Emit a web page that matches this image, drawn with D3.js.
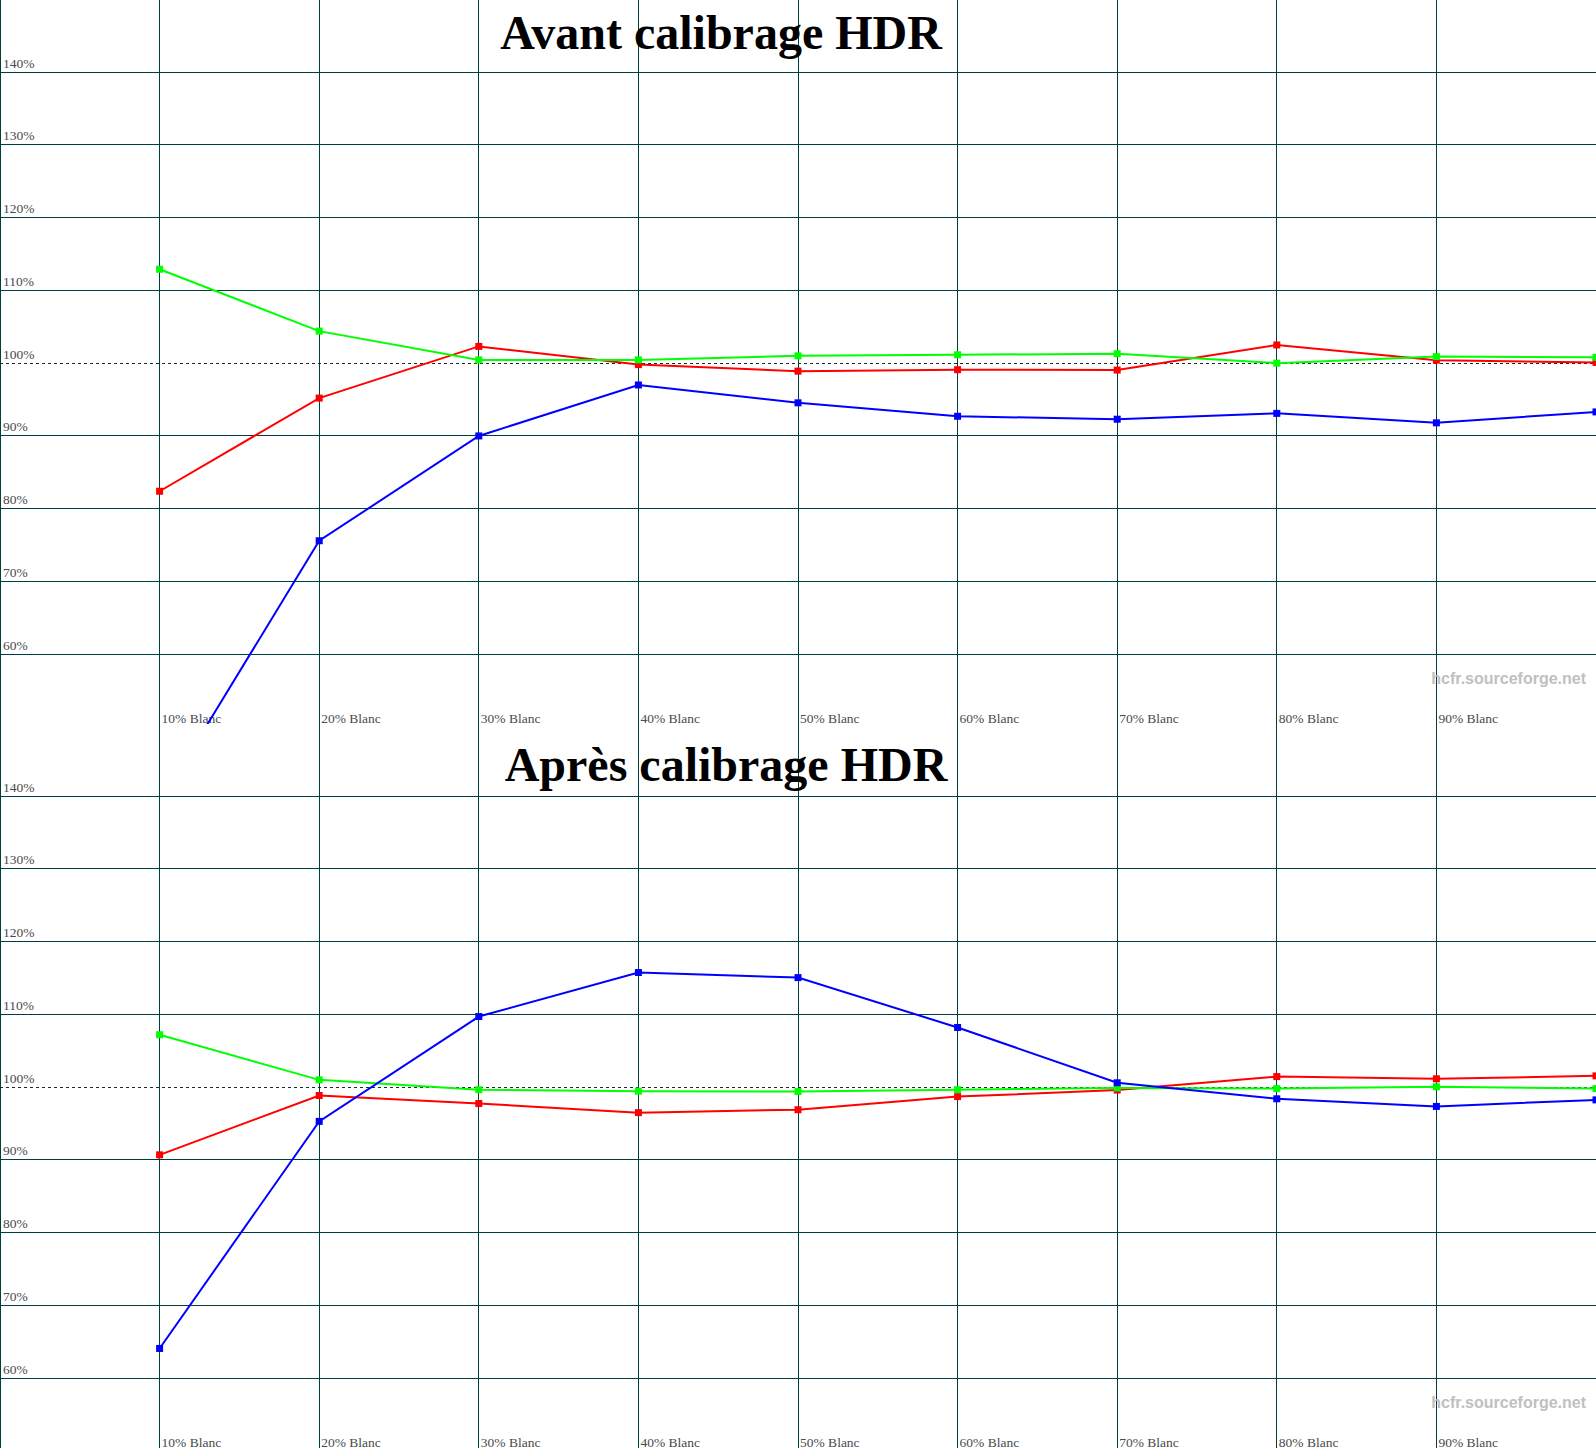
<!DOCTYPE html>
<html>
<head>
<meta charset="utf-8">
<script src="https://cdn.jsdelivr.net/npm/d3@7"></script>
<style>
  body { margin: 0; background: #fff; }
  svg { display: block; }
</style>
</head>
<body>
<div id="chart"></div>
<script>
// niveaux de blanc mesurés
const levels = [10, 20, 30, 40, 50, 60, 70, 80, 90, 100];
const yTicks = [60, 70, 80, 90, 100, 110, 120, 130, 140];

// avant calibrage
const avantRouge = [82.4, 95.2, 102.3, 99.8, 98.9, 99.1, 99.05, 102.5, 100.4, 100.1];
const avantVert = [112.9, 104.4, 100.45, 100.45, 101.0, 101.15, 101.3, 100.0, 100.9, 100.8];
const avantBleu = [39.6, 75.6, 90.0, 97.0, 94.55, 92.7, 92.3, 93.1, 91.8, 93.3];

// après calibrage
const apresRouge = [90.7, 98.85, 97.75, 96.5, 96.9, 98.7, 99.6, 101.45, 101.15, 101.55];
const apresVert = [107.2, 101.0, 99.65, 99.45, 99.4, 99.65, 99.9, 99.8, 100.05, 99.8];
const apresBleu = [64.1, 95.3, 109.7, 115.75, 115.05, 108.2, 100.6, 98.4, 97.35, 98.25];

const width = 1596, height = 1454, chartH = 724;
const gridColor = "#003f3f";

let svg = d3.select('#chart').append('svg')
    .attr('width', width)
    .attr('height', height)
    .style('background', '#fff');

let x = d3.scaleLinear().domain([0, 100]).range([0, 1596]);
let y = d3.scaleLinear().domain([60, 140]).range([654.3, 72]);

function drawChart(idx, title, titleX, titleY, series) {
    let g = svg.append('g').attr('transform', `translate(0,${idx * chartH})`);

    g.append('clipPath').attr('id', 'clip' + idx)
        .append('rect').attr('width', width).attr('height', chartH);

    // grille verticale
    g.selectAll('.vline')
        .data([0].concat(levels))
        .enter()
        .append('line')
        .attr('x1', d => d === 0 ? 0.5 : x(d))
        .attr('x2', d => d === 0 ? 0.5 : x(d))
        .attr('y1', 0)
        .attr('y2', chartH)
        .attr('stroke', gridColor)
        .attr('stroke-width', 1)
        .attr('shape-rendering', 'crispEdges');

    // grille horizontale (100% en pointillés)
    g.selectAll('.hline')
        .data(yTicks)
        .enter()
        .append('line')
        .attr('x1', 0)
        .attr('x2', width)
        .attr('y1', d => y(d))
        .attr('y2', d => y(d))
        .attr('stroke', d => d === 100 ? '#1a2a2a' : gridColor)
        .attr('stroke-dasharray', d => d === 100 ? '3,3' : null)
        .attr('stroke-width', 1)
        .attr('shape-rendering', 'crispEdges');

    g.selectAll('.ylab')
        .data(yTicks)
        .enter()
        .append('text')
        .attr('x', 3)
        .attr('y', d => y(d) - 4.5)
        .attr('font-family', '"Liberation Serif", "Times New Roman", serif')
        .attr('font-size', '13.5px')
        .attr('fill', '#4a4a4a')
        .text(d => d + '%');

    g.selectAll('.xlab')
        .data(levels.filter(d => x(d) < width - 20))
        .enter()
        .append('text')
        .attr('x', d => x(d) + 2)
        .attr('y', 722.7)
        .attr('font-family', '"Liberation Serif", "Times New Roman", serif')
        .attr('font-size', '13.5px')
        .attr('fill', '#4a4a4a')
        .text(d => d + '% Blanc');

    g.append('text')
        .attr('x', 1586)
        .attr('y', 684.3)
        .attr('text-anchor', 'end')
        .attr('font-family', '"Liberation Sans", Arial, sans-serif')
        .attr('font-weight', 'bold')
        .attr('font-size', '16px')
        .attr('fill', '#c0c0c0')
        .text('hcfr.sourceforge.net');

    let plot = g.append('g').attr('clip-path', `url(#clip${idx})`);
    let line = d3.line().x((d, i) => x(levels[i])).y(d => y(d));

    series.forEach(s => {
        plot.append('path')
            .datum(s.values)
            .attr('d', line)
            .attr('fill', 'none')
            .attr('stroke', s.color)
            .attr('stroke-width', 2);
        plot.selectAll(null)
            .data(s.values)
            .enter()
            .append('rect')
            .attr('x', (d, i) => x(levels[i]) - 3.5)
            .attr('y', d => y(d) - 3.5)
            .attr('width', 7)
            .attr('height', 7)
            .attr('fill', s.color);
    });

    g.append('text')
        .attr('x', titleX)
        .attr('y', titleY)
        .attr('text-anchor', 'middle')
        .attr('font-family', '"Liberation Serif", "Times New Roman", serif')
        .attr('font-weight', 'bold')
        .attr('font-size', '48px')
        .attr('fill', '#000')
        .text(title);
}

drawChart(0, 'Avant calibrage HDR', 721, 49, [
    {color: '#ff0000', values: avantRouge},
    {color: '#00ff00', values: avantVert},
    {color: '#0000ff', values: avantBleu}
]);
drawChart(1, 'Après calibrage HDR', 726, 57, [
    {color: '#ff0000', values: apresRouge},
    {color: '#00ff00', values: apresVert},
    {color: '#0000ff', values: apresBleu}
]);
</script>
</body>
</html>
